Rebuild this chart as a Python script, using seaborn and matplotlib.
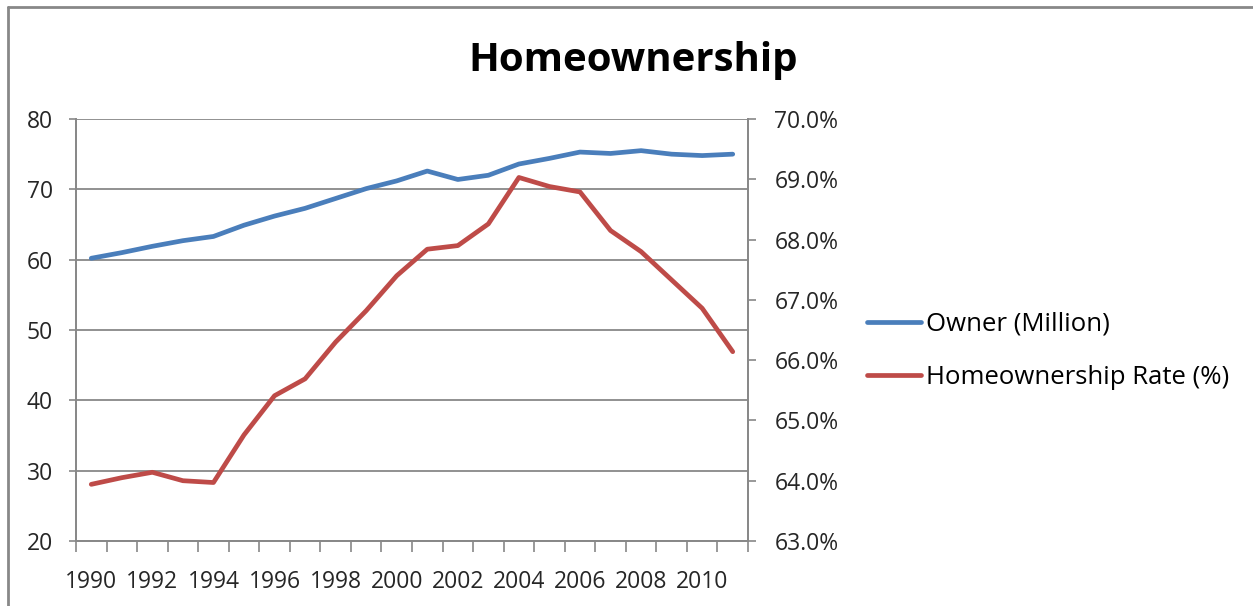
import matplotlib
matplotlib.use("Agg")
import matplotlib.pyplot as plt
from matplotlib.lines import Line2D
from matplotlib.ticker import FixedLocator, FuncFormatter
import numpy as np
import pandas as pd
import seaborn as sns

years = list(range(1990, 2012))
owners_million = [60.2, 61.0, 61.9, 62.7, 63.3, 64.9, 66.2, 67.3, 68.7, 70.1, 71.2,
                  72.6, 71.4, 72.0, 73.6, 74.4, 75.3, 75.1, 75.5, 75.0, 74.8, 75.0]
ownership_rate = [63.94, 64.05, 64.14, 64.00, 63.97, 64.76, 65.41, 65.69, 66.30, 66.82, 67.40,
                  67.84, 67.90, 68.26, 69.03, 68.88, 68.79, 68.15, 67.80, 67.33, 66.86, 66.14]
left_ticks = [20, 30, 40, 50, 60, 70, 80]
right_ticks = [63, 64, 65, 66, 67, 68, 69, 70]
series_names = ["Owner (Million)", "Homeownership Rate (%)"]

sns.set_theme(style="white")
plt.rcParams["font.family"] = ["Open Sans", "DejaVu Sans"]

BLUE = "#4A7EBB"
RED = "#BE4B48"
GRID = "#888888"
TEXT = "#262626"
TICK_FS = 16.5

df = pd.DataFrame({"pos": np.arange(len(years)), "owners": owners_million,
                   "rate": ownership_rate})

fig = plt.figure(figsize=(12.53, 6.06), dpi=100)
ax = fig.add_axes([76 / 1253, 65 / 606, 672 / 1253, 422 / 606])
ax2 = ax.twinx()

sns.lineplot(data=df, x="pos", y="owners", ax=ax, color=BLUE, linewidth=3.4,
             solid_capstyle="round", solid_joinstyle="round")
sns.lineplot(data=df, x="pos", y="rate", ax=ax2, color=RED, linewidth=3.4,
             solid_capstyle="round", solid_joinstyle="round")

n = len(years)
ax.set_xlim(-0.5, n - 0.5)
ax.set_ylim(left_ticks[0], left_ticks[-1])
ax2.set_ylim(right_ticks[0], right_ticks[-1])

# Category axis: labels on every other year, tick marks between categories
ax.xaxis.set_major_locator(FixedLocator(list(range(0, n, 2))))
ax.set_xticklabels([str(y) for y in years[::2]])
ax.xaxis.set_minor_locator(FixedLocator(list(np.arange(-0.5, n, 1.0))))
ax.tick_params(axis="x", which="major", length=0, pad=21, labelsize=TICK_FS, colors=TEXT)
ax.tick_params(axis="x", which="minor", length=8, width=1.2, color=GRID, direction="out",
               bottom=True)

ax.set_yticks(left_ticks)
ax.tick_params(axis="y", which="major", length=5, width=1.2, color=GRID, direction="out",
               left=True, pad=11.5, labelsize=TICK_FS, labelcolor=TEXT)
ax2.set_yticks(right_ticks)
ax2.yaxis.set_major_formatter(FuncFormatter(lambda v, _: f"{v:.1f}%"))
ax2.tick_params(axis="y", which="major", length=6, width=1.2, color=GRID, direction="out",
                right=True, pad=13, labelsize=TICK_FS, labelcolor=TEXT)

ax.grid(axis="y", color=GRID, linewidth=1.3)
ax.set_axisbelow(True)
for a in (ax, ax2):
    a.set_xlabel("")
    a.set_ylabel("")
    a.spines["top"].set_visible(False)
    for s in ("left", "right", "bottom"):
        a.spines[s].set_color(GRID)
        a.spines[s].set_linewidth(1.3)

fig.text(633 / 1253, 1 - 60 / 606, "Homeownership", ha="center", va="center",
         fontsize=29, fontweight="bold", color="black")

handles = [Line2D([], [], color=BLUE, linewidth=3.4),
           Line2D([], [], color=RED, linewidth=3.4)]
fig.legend(handles, series_names, loc="center left",
           bbox_to_anchor=(844 / 1253, 1 - 351 / 606), frameon=False,
           fontsize=18.5, handlelength=2.1, handletextpad=0.2, labelspacing=1.1,
           labelcolor="black")

# Outer frame of the chart area
fig.add_artist(Line2D([8 / 1253, 8 / 1253], [0, 1 - 7 / 606], transform=fig.transFigure,
                      color=GRID, linewidth=2))
fig.add_artist(Line2D([8 / 1253, 1], [1 - 7 / 606, 1 - 7 / 606], transform=fig.transFigure,
                      color=GRID, linewidth=2))

fig.savefig("out.png", dpi=100)
